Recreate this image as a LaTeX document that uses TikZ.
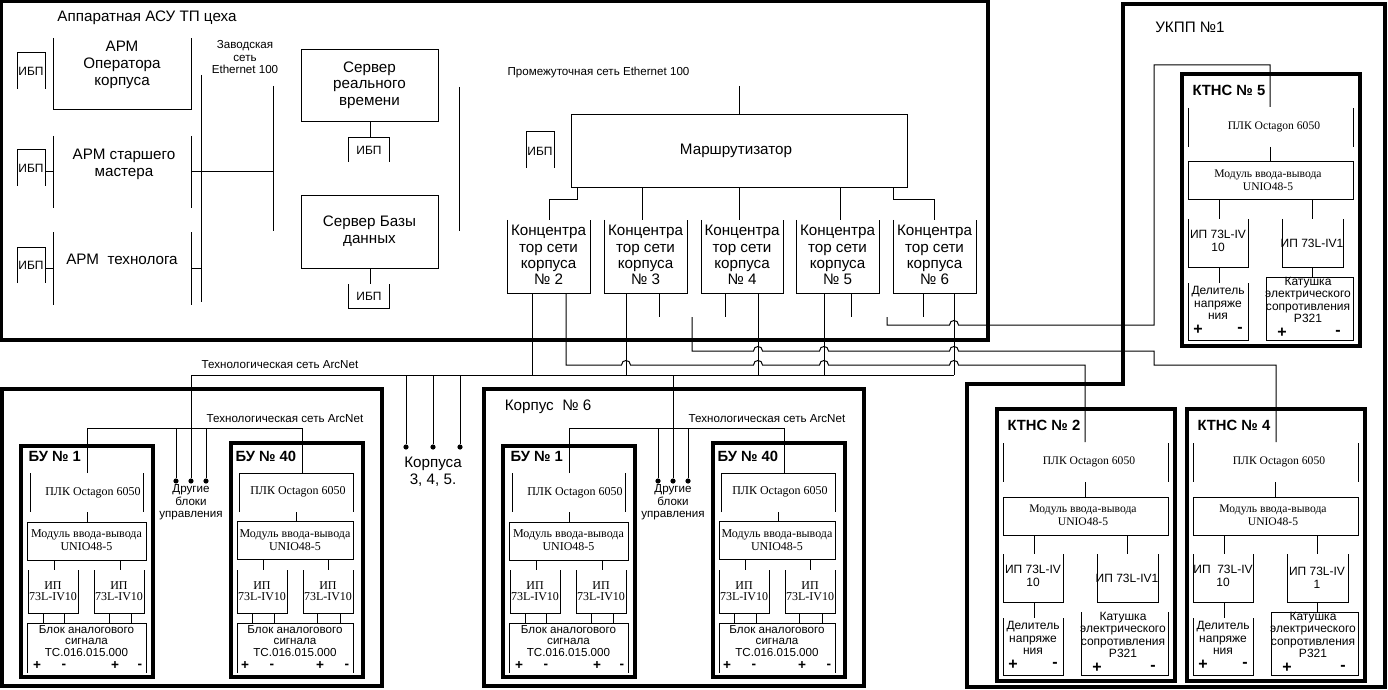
\documentclass[tikz,border=0pt]{standalone}
\usepackage{fontspec}
\setmainfont{Liberation Sans}
\newfontfamily\srf{Liberation Serif}
\newcommand\hp[2]{-- ({#1-4.5},#2) .. controls ({#1-4.5},{#2-6}) and ({#1+4.5},{#2-6}) .. ({#1+4.5},#2)}
\tikzset{
  bx/.style={line width=1.75pt},
  tx/.style={inner sep=0pt,align=center,font=\fontsize{7.6}{8.35}\selectfont},
  sm/.style={inner sep=0pt,align=center,font=\fontsize{5.8}{6.25}\selectfont},
  ib/.style={inner sep=0pt,font=\fontsize{6}{6}\selectfont},
  sr/.style={inner sep=0pt,align=center,font=\srf\fontsize{6}{6.5}\selectfont},
  ip/.style={inner sep=0pt,align=center,font=\srf\fontsize{6}{5.6}\selectfont},
  blk/.style={inner sep=0pt,align=center,font=\fontsize{5.8}{5.7}\selectfont},
  kt/.style={inner sep=0pt,align=center,font=\fontsize{6}{6.4}\selectfont},
  ttl/.style={inner sep=0pt,anchor=west,font=\bfseries\fontsize{7.4}{8}\selectfont},
  pm/.style={inner sep=0pt,font=\bfseries\fontsize{6.8}{6.8}\selectfont},
  pmk/.style={inner sep=0pt,font=\bfseries\fontsize{8}{8}\selectfont},
  bdot/.style={circle,fill,inner sep=0pt,minimum size=2.6pt}
}
% one BU block No 1
\newcommand\buone[1]{%
  \draw[bx] (21,446) rectangle (153,677);
  \node[ttl] (#1t) at (28,456) {БУ № 1};
  \draw (30,473) -- (30,512); \draw (143,473) -- (143,512);
  \node[sr] (#1plc) at (93,493) {ПЛК Octagon 6050};
  \draw (87,512) -- (87,522);
  \draw (27,522) rectangle (146,560);
  \node[sr] (#1mod) at (86.5,540.5) {Модуль ввода-вывода\\UNIO48-5};
  \draw (54,560) -- (54,570); \draw (120,560) -- (120,570);
  \draw (28,570) -- (28,613) -- (78,613) -- (78,570);
  \draw (94,570) -- (94,613) -- (144,613) -- (144,570);
  \node[ip] (#1ipa) at (53,591) {ИП\\73L-IV10};
  \node[ip] (#1ipb) at (119,591) {ИП\\73L-IV10};
  \draw (43,613) -- (43,623); \draw (64,613) -- (64,623);
  \draw (109,613) -- (109,623); \draw (131,613) -- (131,623);
  \draw (27,673) -- (27,623) -- (146,623) -- (146,673);
  \node[blk] (#1blk) at (86.5,641) {Блок аналогового\\сигнала\\ТС.016.015.000};
  \node[pm] (#1a) at (37,666) {+}; \node[pm] (#1b) at (64,666) {-};
  \node[pm] (#1c) at (115,666) {+}; \node[pm] (#1d) at (140,666) {-};
}
\newcommand\buforty[1]{%
  \draw[bx] (231,443) rectangle (363,677);
  \node[ttl] (#1t) at (235,456) {БУ № 40};
  \draw (239,512) -- (239,473) -- (353,473) -- (353,512);
  \node[sr] (#1plc) at (298,492) {ПЛК Octagon 6050};
  \draw (296,512) -- (296,521);
  \draw (237,521) rectangle (353,559);
  \node[sr] (#1mod) at (295,540) {Модуль ввода-вывода\\UNIO48-5};
  \draw (263,559) -- (263,570); \draw (328,559) -- (328,570);
  \draw (237,570) -- (237,613) -- (287,613) -- (287,570);
  \draw (303,570) -- (303,613) -- (353,613) -- (353,570);
  \node[ip] (#1ipa) at (262,591) {ИП\\73L-IV10};
  \node[ip] (#1ipb) at (328,591) {ИП\\73L-IV10};
  \draw (252,613) -- (252,623); \draw (274,613) -- (274,623);
  \draw (317,613) -- (317,623); \draw (340,613) -- (340,623);
  \draw (237,673) -- (237,623) -- (353,623) -- (353,673);
  \node[blk] (#1blk) at (295,641) {Блок аналогового\\сигнала\\ТС.016.015.000};
  \node[pm] (#1a) at (245,666) {+}; \node[pm] (#1b) at (272,666) {-};
  \node[pm] (#1c) at (320,666) {+}; \node[pm] (#1d) at (347,666) {-};
}
\newcommand\korpus[2]{%
\begin{scope}[xshift=#2]
  \draw[bx] (2,389) rectangle (382,686);
  \node[sm] (#1arc) at (285,419) {Технологическая сеть ArcNet};
  \draw (87,473) -- (87,428) -- (302,428) -- (302,473);
  \node[bdot] (#1d1) at (176,481) {};
  \node[bdot] (#1d2) at (191,481) {};
  \node[bdot] (#1d3) at (206,481) {};
  \draw (176,428) -- (#1d1);
  \draw (191,375) -- (#1d2);
  \draw (206,428) -- (#1d3);
  \node[sm] (#1dr) at (191,502.5) {Другие\\блоки\\управления};
  \buone{#1u}
  \buforty{#1v}
\end{scope}}
\newcommand\ktns[7]{%
\begin{scope}[xshift=#2,yshift=#3]
  \draw[bx] (1182,74) rectangle (1360,346);
  \node[ttl] (#1t) at (1192,90) {КТНС № #4};
  \draw (1188,108) -- (1188,147); \draw (1353,108) -- (1353,147);
  \node[sr,font=\srf\fontsize{5.8}{6}\selectfont] (#1plc) at (1274,127) {ПЛК Octagon 6050};
  \draw (1270,147) -- (1270,162);
  \draw (1188,162) rectangle (1353,200);
  \node[sr,font=\srf\fontsize{5.8}{6.35}\selectfont] (#1mod) at (1268,180.5) {Модуль ввода-вывода\\UNIO48-5};
  \draw (1219,200) -- (1219,219); \draw (1312,200) -- (1312,219);
  \draw (1188,219) -- (1188,267) -- (1248,267) -- (1248,219);
  \draw (1282,219) -- (1282,267) -- (1343,267) -- (1343,219);
  \node[kt] (#1ipa) at (1218,241) {#5};
  \node[kt] (#1ipb) at (1312,243) {#6};
  \draw (1219,267) -- (1219,283);
  \draw (1188,283) -- (1188,340) -- (1248,340) -- (1248,283);
  \node[kt,font=\fontsize{6}{6.25}\selectfont] (#1del) at (1218,303.3) {Делитель\\напряже\\ния};
  \node[pmk] (#1p1) at (1198,330) {+};
  \node[pmk] (#1m1) at (1240,330) {-};
  \draw (1266,277) -- (1266,340) -- (1353,340) -- (1353,277);
  \node[kt,font=\fontsize{6}{6.1}\selectfont] (#1kat) at (1308,300) {Катушка\\электрического\\сопротивления\\Р321};
  \node[pmk] (#1p2) at (1282,333) {+};
  \node[pmk] (#1m2) at (1338,333) {-};
  #7
\end{scope}}
\begin{document}
\begin{tikzpicture}[x=0.5pt,y=-0.5pt,line width=0.5pt]
\useasboundingbox (0,0) rectangle (1388,690);
% ===== top room =====
\draw[bx] (1.5,1.5) rectangle (988,340);
\node[tx] (ttop) at (147,18) {Аппаратная АСУ ТП цеха};
\draw (17,89) -- (17,53) -- (45,53) -- (45,89);
\node[ib] (ibp1) at (31,71) {ИБП};
\draw (17,186) -- (17,150) -- (45,150) -- (45,186);
\node[ib] (ibp2) at (31,168) {ИБП};
\draw (17,283) -- (17,247) -- (45,247) -- (45,283);
\node[ib] (ibp3) at (31,265) {ИБП};
\draw (45,172) -- (53,172);
\draw (45,268) -- (53,268);
\draw (53,38) -- (53,110) -- (191,110) -- (191,38);
\node[tx] (arm1) at (122,65) {АРМ\\Оператора\\корпуса};
\draw (53,136) -- (53,208); \draw (191,136) -- (191,208);
\node[tx] (arm2) at (124,164) {АРМ старшего\\мастера};
\draw (53,232) -- (53,305); \draw (191,232) -- (191,305);
\node[tx] (arm3) at (122,259) {АРМ\ \ технолога};
\draw (201,75) -- (201,302);
\draw (191,172) -- (273,172);
\draw (191,268) -- (201,268);
\draw (273,86) -- (273,231);
\node[sm] (zav) at (245,57.5) {Заводская\\сеть\\Ethernet 100};
\draw (301,50) rectangle (438,122);
\node[tx] (srv1) at (369.5,85) {Сервер\\реального\\времени};
\draw (370,122) -- (370,138);
\draw (348,162) -- (348,138) -- (389,138) -- (389,162);
\node[ib] (ibp4) at (369,150) {ИБП};
\draw (301,196) rectangle (438,268);
\node[tx] (srv2) at (369.5,231) {Сервер Базы\\данных};
\draw (370,268) -- (370,284);
\draw (348,284) -- (348,308) -- (389,308) -- (389,284);
\node[ib] (ibp5) at (369,296) {ИБП};
\draw (459,87) -- (459,231);
% router
\node[sm] (prom) at (598.5,73) {Промежуточная сеть Ethernet 100};
\draw (739,86) -- (739,115);
\draw (571,115) rectangle (907,188);
\node[tx] (rout) at (736,151) {Маршрутизатор};
\draw (526,168) -- (526,132) -- (554,132) -- (554,168);
\node[ib] (ibp6) at (540,151) {ИБП};
\foreach \L/\R/\n in {507/590/2, 604/687/3, 701/783/4, 796/879/5, 893/976/6} {
  \draw (\L,220) -- (\L,293) -- (\R,293) -- (\R,220);
  \node[tx,font=\fontsize{7.6}{8.15}\selectfont] (c\n) at ({(\L+\R)/2},255) {Концентра\\тор сети\\корпуса\\№ \n};
}
\draw (577,188) -- (577,200) -- (549,200) -- (549,220);
\draw (642,188) -- (642,220);
\draw (739,188) -- (739,220);
\draw (840,188) -- (840,220);
\draw (893,188) -- (893,200) -- (934,200) -- (934,220);
% concentrator outputs
\draw (532,293) -- (532,375);
\draw (626,293) -- (626,375);
\draw (758,293) -- (758,375);
\draw (824,293) -- (824,375);
\draw (954,293) -- (954,375);
\draw (659,293) -- (659,317);
\draw (725,293) -- (725,317);
\draw (851,293) -- (851,317);
\draw (923,293) -- (923,317);
\draw (566,293) -- (566,365) \hp{626}{365} \hp{758}{365} \hp{824}{365} \hp{954}{365} -- (1085,365) -- (1085,442);
\draw (692,317) -- (692,351) \hp{758}{351} \hp{824}{351} \hp{954}{351} -- (1154,351) -- (1154,365) -- (1276,365) -- (1276,442);
\draw (887,317) -- (887,325) \hp{954}{325} -- (1154,325) -- (1154,65) -- (1270,65) -- (1270,107);
% ArcNet
\draw (191,375) -- (954,375);
\node[sm] (arc0) at (280,365) {Технологическая сеть ArcNet};
\node[bdot] (k3) at (406,447) {};
\node[bdot] (k4) at (433,447) {};
\node[bdot] (k5) at (460,447) {};
\draw (406,375) -- (k3); \draw (433,375) -- (k4); \draw (460,375) -- (k5);
\node[tx,font=\fontsize{7.6}{8.5}\selectfont] (korp) at (433,471.5) {Корпуса\\3, 4, 5.};
% korpus blocks
\korpus{ka}{0pt}
\korpus{kb}{241pt}
\node[tx] (k6t) at (548,407) {Корпус\ \ № 6};
% UKPP
\draw[bx] (1123,384) -- (1123,4) -- (1385,4) -- (1385,687) -- (967,687) -- (967,384) -- cycle;
\node[tx] (ukpp) at (1190,27) {УКПП №1};
\ktns{kt5}{0pt}{0pt}{5}{ИП 73L-IV\\10}{ИП 73L-IV1}{\draw (1266,277) -- (1353,277); \draw (1312,267) -- (1312,277);}
\ktns{kt2}{-92.5pt}{-167.5pt}{2}{ИП 73L-IV\\10}{ИП 73L-IV1}{}
\ktns{kt4}{2.5pt}{-167.5pt}{4}{ИП\ \ 73L-IV\\10}{ИП 73L-IV\\1}{\draw (1266,277) -- (1353,277); \draw (1312,267) -- (1312,277);}
\end{tikzpicture}
\end{document}
